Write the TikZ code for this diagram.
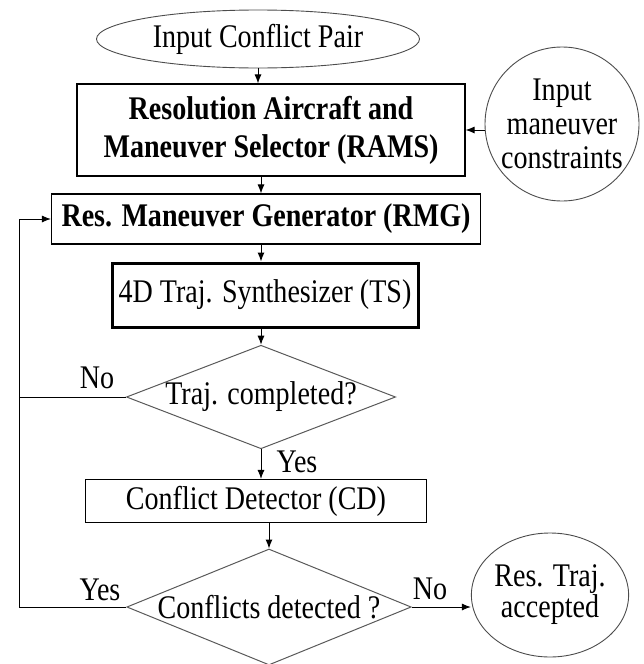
\documentclass[tikz,border=0pt]{standalone}
\usepackage{fontspec}
\setmainfont{Liberation Serif}[FakeStretch=0.85]
\usetikzlibrary{shapes.geometric,arrows.meta}
\begin{document}
\begin{tikzpicture}[x=1pt,y=-1pt,
  every node/.style={font=\fontsize{33}{38}\selectfont, inner sep=0pt, align=center},
  box/.style={draw, line width=1.1pt},
  oval/.style={draw=black!70, line width=0.9pt, ellipse},
  dia/.style={draw=black!65, line width=1pt, diamond, shape aspect=2.6},
  arr/.style={-{Latex[length=9pt,width=7pt]}, line width=1pt},
  ln/.style={line width=1pt}]
\useasboundingbox (0,0) rectangle (643,664);
% nodes
\node[oval, minimum width=323pt, minimum height=58pt] (ell) at (258,39) {Input Conflict Pair};
\node[box, minimum width=388pt, minimum height=92pt, font=\fontsize{33}{38}\selectfont\bfseries] (rams) at (271,130) {Resolution Aircraft and\\Maneuver Selector (RAMS)};
\node[oval, circle, minimum size=154pt, font=\fontsize{33}{34}\selectfont] (cons) at (562,124) {Input\\maneuver\\constraints};
\node[box, minimum width=429pt, minimum height=50pt, font=\fontsize{33}{38}\selectfont\bfseries] (rmg) at (266,219) {Res. Maneuver Generator (RMG)};
\node[draw, line width=3pt, minimum width=306pt, minimum height=64pt] (ts) at (265,295) {4D Traj. Synthesizer (TS)};
\node[dia, minimum width=266pt, minimum height=102pt] (d1) at (261,397) {Traj. completed?};
\node[box, minimum width=341pt, minimum height=43pt] (cd) at (256,501) {Conflict Detector (CD)};
\node[dia, minimum width=280pt, minimum height=116pt] (d2) at (269,607) {Conflicts detected ?};
\node[oval, minimum width=144pt, minimum height=124pt, font=\fontsize{33}{31}\selectfont] (acc) at (550,595) {Res. Traj.\\accepted};
% labels
\node (no1) at (97,378) {No};
\node (yes2) at (100,590) {Yes};
\node (yes1) at (297,462) {Yes};
\node (no2) at (430,589) {No};
\coordinate (lx) at (19,400);
% connectors
\draw[arr] (ell.south) -- (ell.south |- rams.north);
\draw[arr] (d1.north |- rams.south) -- (d1.north |- rmg.north);
\draw[arr] (rams.east -| cons.west) -- (rams.east);
\draw[arr] (rmg.south -| d1.north) -- (ts.north -| d1.north);
\draw[arr] (ts.south -| d1.north) -- (d1.north);
\draw[arr] (d1.south) -- (d1.south |- cd.north);
\draw[arr] (cd.south -| d2.north) -- (d2.north);
\draw[arr] (d2.east) -- (acc.west |- d2.east);
\draw[ln] (d1.west) -- (d1.west -| lx);
\draw[arr] (d2.west) -- (d2.west -| lx) |- (rmg.west);
\end{tikzpicture}
\end{document}
